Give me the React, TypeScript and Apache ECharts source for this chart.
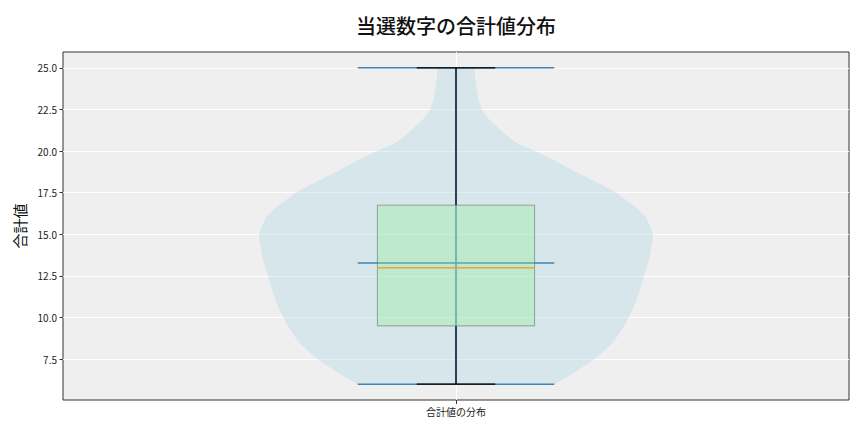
import React, { useEffect, useRef } from 'react';
import * as echarts from 'echarts';

const chartTitle = '当選数字の合計値分布';
const categoryLabel = '合計値の分布';
const yAxisName = '合計値';
const categoryPos = [1];
const yTicks = [7.5, 10, 12.5, 15, 17.5, 20, 22.5, 25];

// violin outline: value -> half width (x units, max 0.25)
const violinY = [6, 6.5, 7.5, 8.5, 9.5, 10.5, 11.5, 12.5, 13.5, 15, 16, 16.5, 17, 17.5, 18, 18.5, 19, 19.5, 20, 20.5, 21, 21.5, 22, 22.5, 23, 23.5, 25];
const violinHalfWidth = [0.125, 0.144, 0.176, 0.2, 0.214, 0.225, 0.233, 0.239, 0.246, 0.251, 0.242, 0.232, 0.218, 0.204, 0.184, 0.163, 0.142, 0.123, 0.1, 0.076, 0.063, 0.051, 0.04, 0.033, 0.029, 0.027, 0.023];

// min, q1, median, q3, max
const boxStats = [6, 9.5, 13, 16.75, 25];
const meanValue = [13.28];

const FONT = '"Noto Sans CJK JP", "Noto Sans", sans-serif';

const App: React.FC = () => {
	const chartRef = useRef<HTMLDivElement>(null);

	useEffect(() => {
		if (!chartRef.current) return;
		document.body.style.margin = '0';
		const chart = echarts.init(chartRef.current, undefined, { renderer: 'svg' });
		const [vMin, q1, med, q3, vMax] = boxStats;

		const renderItem = (params: any, api: any) => {
			const cx = api.value(0);
			const right = violinY.map((y, i) => api.coord([cx + violinHalfWidth[i], y]));
			const left = violinY.map((y, i) => api.coord([cx - violinHalfWidth[i], y])).reverse();
			const seg = (x1: number, y1: number, x2: number, y2: number, stroke: string, lineWidth: number) => {
				const a = api.coord([x1, y1]);
				const b = api.coord([x2, y2]);
				return { type: 'line', shape: { x1: a[0], y1: a[1], x2: b[0], y2: b[1] }, style: { stroke, lineWidth } };
			};
			const blue = '#3d84b9';
			const boxTL = api.coord([cx - 0.1, q3]);
			const boxBR = api.coord([cx + 0.1, q1]);
			return {
				type: 'group',
				children: [
					{ type: 'polygon', shape: { points: right.concat(left) }, style: { fill: 'rgba(173,216,230,0.38)' } },
					seg(cx, vMin, cx, vMax, blue, 1.5),
					seg(cx - 0.125, vMin, cx + 0.125, vMin, blue, 1.5),
					seg(cx - 0.125, vMax, cx + 0.125, vMax, blue, 1.5),
					seg(cx - 0.125, meanValue[0], cx + 0.125, meanValue[0], blue, 1.5),
					seg(cx, vMin, cx, q1, '#000', 1.2),
					seg(cx, q3, cx, vMax, '#000', 1.2),
					seg(cx - 0.05, vMin, cx + 0.05, vMin, '#000', 1.2),
					seg(cx - 0.05, vMax, cx + 0.05, vMax, '#000', 1.2),
					{
						type: 'rect',
						shape: { x: boxTL[0], y: boxTL[1], width: boxBR[0] - boxTL[0], height: boxBR[1] - boxTL[1] },
						style: { fill: 'rgba(144,238,144,0.32)', stroke: 'rgba(90,100,95,0.55)', lineWidth: 1 }
					},
					seg(cx - 0.1, med, cx + 0.1, med, '#eea33a', 1.5)
				]
			};
		};

		const option: any = {
			animation: false,
			backgroundColor: '#ffffff',
			textStyle: { fontFamily: FONT },
			graphic: [
				{
					type: 'text',
					x: 456,
					y: 25,
					style: {
						text: chartTitle,
						textAlign: 'center',
						textVerticalAlign: 'middle',
						fontSize: 20,
						fontFamily: FONT,
						fontWeight: 500,
						fill: '#111'
					}
				}
			],
			grid: {
				left: 63,
				right: 15,
				top: 52,
				bottom: 32,
				show: true,
				backgroundColor: '#efefef',
				borderColor: '#333',
				borderWidth: 1
			},
			xAxis: {
				type: 'value',
				min: 0.5,
				max: 1.5,
				interval: 0.5,
				axisLine: { show: false },
				axisTick: { show: true, customValues: categoryPos, length: 4, lineStyle: { color: '#333' } },
				axisLabel: {
					customValues: categoryPos,
					formatter: () => categoryLabel,
					fontSize: 10,
					color: '#222',
					margin: 6,
					fontFamily: FONT
				},
				splitLine: { show: true, lineStyle: { color: '#ffffff', width: 1 } }
			},
			yAxis: {
				type: 'value',
				min: 5.05,
				max: 25.95,
				name: yAxisName,
				nameLocation: 'middle',
				nameRotate: 90,
				nameGap: 36,
				nameTextStyle: { fontSize: 15, color: '#111', fontFamily: FONT },
				axisLine: { show: false },
				axisTick: { show: true, customValues: yTicks, length: 3.5, lineStyle: { color: '#333' } },
				axisLabel: {
					customValues: yTicks,
					formatter: (v: number) => v.toFixed(1),
					fontSize: 10,
					color: '#222',
					margin: 6,
					fontFamily: FONT
				},
				splitLine: { show: true, lineStyle: { color: '#ffffff', width: 1 } }
			},
			series: [
				{
					type: 'custom',
					renderItem,
					data: [categoryPos],
					silent: true
				}
			]
		};

		chart.setOption(option);
		return () => {
			chart.dispose();
		};
	}, []);

	return <div ref={chartRef} style={{ width: 864, height: 432 }} />;
};

export default App;
